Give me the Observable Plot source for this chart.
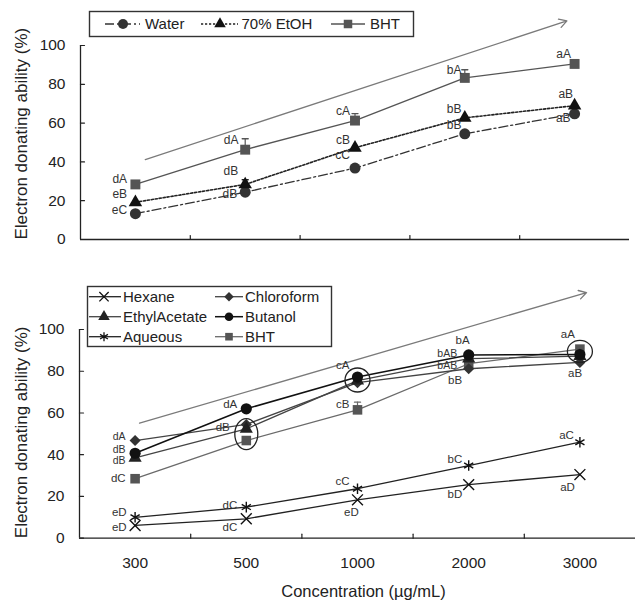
<!DOCTYPE html>
<html><head><meta charset="utf-8">
<script src="https://cdn.jsdelivr.net/npm/d3@7"></script>
<script src="https://cdn.jsdelivr.net/npm/@observablehq/plot@0.6"></script>
<style>
body{margin:0;background:#fff;font-family:"Liberation Sans",Arial,sans-serif;}
#root{position:relative;width:641px;height:604px;overflow:hidden;background:#fff;}
#top,#bottom,#legends{position:absolute;left:0;}
#top{top:0}#bottom{top:250px}#legends{top:0;pointer-events:none}
</style></head><body><div id="root"><div id="top"></div><div id="bottom"></div><svg id="legends" width="641" height="604"></svg></div>
<script>
// ---------- data ----------
const concentrations = ["300", "500", "1000", "2000", "3000"];
const yTicks = [0, 20, 40, 60, 80, 100];
const yTitle = "Electron donating ability (%)";
const xTitle = "Concentration (µg/mL)";

// top panel
const topNames = ["Water", "70% EtOH", "BHT"];
const water = [13.3, 24.4, 36.8, 54.5, 64.8];
const etoh = [19.2, 28.4, 47.3, 62.7, 69.0];
const bhtTop = [28.4, 46.3, 61.3, 83.3, 90.5];
const waterSD = [0, 0, 0, 0, 0];
const etohSD = [0, 2.4, 0, 0, 0];
const bhtTopSD = [0, 5.6, 3.6, 4.2, 0];
const waterLetters = ["eC", "dB", "cC", "bB", "aB"];
const etohLetters = ["eB", "dB", "cB", "bB", "aB"];
const bhtTopLetters = ["dA", "dA", "cA", "bA", "aA"];
const topArrow = [{x1: 0.09, y1: 41.2, x2: 3.93, y2: 112.7}];

// bottom panel
const bottomNames = ["Hexane", "Chloroform", "EthylAcetate", "Butanol", "Aqueous", "BHT"];
const hexane = [6.1, 9.3, 18.4, 25.7, 30.5];
const chloroform = [46.8, 54.5, 74.5, 81.2, 84.2];
const ethylAcetate = [38.5, 52.4, 75.5, 86.0, 87.2];
const butanol = [40.7, 62.0, 77.2, 87.8, 88.0];
const aqueous = [10.0, 14.9, 23.7, 34.8, 46.0];
const bhtBottom = [28.5, 46.8, 61.5, 83.6, 90.6];
const zeroSD = [0, 0, 0, 0, 0];
const bhtBottomSD = [0, 0, 3.7, 0, 0];
const hexaneLetters = ["eD", "dC", "eD", "bD", "aD"];
const chloroformLetters = ["dA", null, null, "bB", "aB"];
const ethylAcetateLetters = ["dB", "dB", null, "bAB", null];
const butanolLetters = ["dB", "dA", "cA", "bA", null];
const aqueousLetters = ["eD", "dC", "cC", "bC", "aC"];
const bhtBottomLetters = ["dC", null, "cB", "bAB", "aA"];
const bottomArrow = [{x1: 0.04, y1: 55.1, x2: 4.06, y2: 117.7}];
const highlight = [{i: 1, v: 49.9}, {i: 2, v: 75.8}, {i: 4, v: 89.5}];

// ---------- layout / style (not data) ----------
const FONT = "'Liberation Sans', Arial, sans-serif";
const topNudge = {
  Water: [[-8.3, -3.3], [-8, 2.3], [-5, -12.7], [-3.3, -8.3], [-4, 4]],
  "70% EtOH": [[-8.3, -7.7], [-7, -13.3], [-5, -8], [-3.3, -9], [-1.5, -11]],
  BHT: [[-8.3, -5.7], [-6.7, -9.3], [-5, -9], [-3.3, -7.3], [-3.6, -10]]
};
// [dx, dy, fontSize?]
const bottomNudge = {
  Hexane: [[-8.5, 2], [-9, 8.4], [1.3, 12.4], [-6.5, 10], [-5, 12.7]],
  Chloroform: [[-9.5, -3.5, 10.5], null, null, [-6.5, 11.7], [2.3, 11]],
  EthylAcetate: [[-9.5, 3.2, 10.5], [-16.5, -1.6], null, [-11.5, -5.2, 10.5], null],
  Butanol: [[-9.5, -3.7, 10.5], [-9, -4.3], [-8, -12], [1, -14.5], null],
  Aqueous: [[-8.5, -5], [-9, -2], [-8, -7.6], [-6.5, -6.7], [-6, -7]],
  BHT: [[-9.5, -0.3], null, [-8, -5.3], [-11.5, 1.6, 10.5], [-5, -14.5]]
};
const topStyle = {
  Water: {stroke: "#333", dash: "9,3,2,3", width: 1.3, symbol: "circle", fill: "#333", r: 5.5},
  "70% EtOH": {stroke: "#222", dash: "2.2,1.8", width: 1.6, symbol: "triangle", fill: "#111", r: 5},
  BHT: {stroke: "#555", dash: null, width: 1.4, symbol: "square", fill: "#555", r: 5.6}
};
const bottomStyle = {
  BHT: {stroke: "#6a6a6a", width: 1.3, symbol: "square", fill: "#555", r: 5.4},
  Hexane: {stroke: "#222", width: 1.3, symbol: "times", fill: "none", r: 5},
  Aqueous: {stroke: "#222", width: 1.3, symbol: "asterisk", fill: "none", r: 5},
  Chloroform: {stroke: "#444", width: 1.3, symbol: "diamond2", fill: "#333", r: 5},
  EthylAcetate: {stroke: "#444", width: 1.3, symbol: "triangle", fill: "#222", r: 4.9},
  Butanol: {stroke: "#111", width: 1.5, symbol: "circle", fill: "#111", r: 5.6}
};
const ellipseSizes = [[11.5, 15.5], [12.5, 12], [12.5, 11]];

const idx = d3.range(concentrations.length);
function rows(name, vals, sd, letters, nudges) {
  return idx.map(i => ({series: name, i, v: vals[i], sd: sd[i], letter: letters[i],
    nudge: nudges[i]}));
}
const topData = [
  rows("Water", water, waterSD, waterLetters, topNudge.Water),
  rows("70% EtOH", etoh, etohSD, etohLetters, topNudge["70% EtOH"]),
  rows("BHT", bhtTop, bhtTopSD, bhtTopLetters, topNudge.BHT)
];
const bottomData = [
  rows("BHT", bhtBottom, bhtBottomSD, bhtBottomLetters, bottomNudge.BHT),
  rows("Hexane", hexane, zeroSD, hexaneLetters, bottomNudge.Hexane),
  rows("Aqueous", aqueous, zeroSD, aqueousLetters, bottomNudge.Aqueous),
  rows("Chloroform", chloroform, zeroSD, chloroformLetters, bottomNudge.Chloroform),
  rows("EthylAcetate", ethylAcetate, zeroSD, ethylAcetateLetters, bottomNudge.EthylAcetate),
  rows("Butanol", butanol, zeroSD, butanolLetters, bottomNudge.Butanol)
];

const tickShape = {draw(ctx, l) { ctx.moveTo(0, 0); ctx.lineTo(0, -l); }};
function ellipseSymbol(rx, ry) {
  const k = 0.5523;
  return {draw(ctx) {
    ctx.moveTo(rx, 0);
    ctx.bezierCurveTo(rx, ry * k, rx * k, ry, 0, ry);
    ctx.bezierCurveTo(-rx * k, ry, -rx, ry * k, -rx, 0);
    ctx.bezierCurveTo(-rx, -ry * k, -rx * k, -ry, 0, -ry);
    ctx.bezierCurveTo(rx * k, -ry, rx, -ry * k, rx, 0);
    ctx.closePath();
  }};
}

function seriesMarks(groups, styles, labelSize) {
  const lines = groups.map(g => {
    const s = styles[g[0].series];
    return Plot.line(g, {x: "i", y: "v", stroke: s.stroke, strokeWidth: s.width,
      strokeDasharray: s.dash || undefined});
  });
  const errs = groups.flatMap(g => {
    const s = styles[g[0].series];
    const e = g.filter(d => d.sd > 0);
    return [
      Plot.ruleX(e, {x: "i", y1: "v", y2: d => d.v + d.sd, stroke: s.stroke, strokeWidth: 1.2}),
      Plot.vector(e, {x: "i", y: d => d.v + d.sd, length: 6, rotate: 90, anchor: "middle",
        shape: tickShape, stroke: s.stroke, strokeWidth: 1.4})
    ];
  });
  const dots = groups.map(g => {
    const s = styles[g[0].series];
    const strokeSym = s.fill === "none";
    return Plot.dot(g, {x: "i", y: "v", symbol: s.symbol, r: s.r,
      fill: strokeSym ? "none" : s.fill, stroke: strokeSym ? "#111" : "none",
      strokeWidth: strokeSym ? 1.4 : 0});
  });
  const labels = groups.flatMap(g => g.filter(d => d.letter && d.nudge).map(d =>
    Plot.text([d], {x: "i", y: "v", text: "letter", dx: d.nudge[0], dy: d.nudge[1],
      textAnchor: "end", fontSize: d.nudge[2] || labelSize, fill: "#333"})));
  return [...lines, ...errs, ...dots, ...labels];
}

function axesMarks(showXLabels, titleDx) {
  const m = [
    Plot.ruleY([0], {stroke: "#222", strokeWidth: 1.3}),
    Plot.ruleX([-0.5], {y1: 0, y2: 100, stroke: "#222", strokeWidth: 1.3}),
    Plot.vector(yTicks, {x: -0.5, y: d => d, length: 4, rotate: 90, anchor: "start",
      shape: tickShape, stroke: "#222", strokeWidth: 1.2}),
    Plot.vector(idx.slice(0, -1).map(i => i + 0.5), {x: d => d, y: 0, length: 4, rotate: 0,
      anchor: "start", shape: tickShape, stroke: "#222", strokeWidth: 1.2}),
    Plot.axisY(yTicks, {tickSize: 0, tickPadding: 15, fontSize: 15.5, fill: "#222", label: null}),
    Plot.text([yTitle], {x: -0.5, y: 0, text: d => d, rotate: -90, textAnchor: "start",
      dx: titleDx, fontSize: 17, fill: "#222"})
  ];
  if (showXLabels) {
    m.push(Plot.axisX(idx, {tickSize: 0, tickPadding: 18.5, tickFormat: i => concentrations[i],
      fontSize: 15.5, fill: "#222", label: null}));
    m.push(Plot.text([xTitle], {frameAnchor: "bottom", text: d => d, dy: 59, dx: 6,
      fontSize: 16.5, fill: "#222"}));
  }
  return m;
}

const common = {
  width: 641,
  x: {domain: [-0.5, 4.5], axis: null},
  y: {domain: [0, 100], axis: null},
  style: {fontFamily: FONT, background: "transparent", overflow: "visible"}
};

const topPlot = Plot.plot({
  ...common, height: 250, marginLeft: 80, marginRight: 12, marginTop: 45, marginBottom: 11,
  marks: [
    Plot.arrow(topArrow, {x1: "x1", y1: "y1", x2: "x2", y2: "y2", stroke: "#7a7a7a",
      strokeWidth: 1.3, headLength: 10}),
    ...seriesMarks(topData, topStyle, 12),
    ...axesMarks(false, -59)
  ]
});
document.getElementById("top").appendChild(topPlot);

const bottomPlot = Plot.plot({
  ...common, height: 354, marginLeft: 79, marginRight: 6, marginTop: 79, marginBottom: 66.3,
  marks: [
    Plot.arrow(bottomArrow, {x1: "x1", y1: "y1", x2: "x2", y2: "y2", stroke: "#7a7a7a",
      strokeWidth: 1.3, headLength: 10}),
    ...seriesMarks(bottomData, bottomStyle, 11.5),
    ...highlight.map((h, k) => Plot.dot([h], {x: "i", y: "v",
      symbol: ellipseSymbol(ellipseSizes[k][0], ellipseSizes[k][1]), r: 10,
      fill: "none", stroke: "#222", strokeWidth: 1.3})),
    ...axesMarks(true, -58)
  ]
});
document.getElementById("bottom").appendChild(bottomPlot);

// ---------- legends ----------
const lg = d3.select("#legends");
function legend(box, items) {
  lg.append("rect").attr("x", box[0]).attr("y", box[1]).attr("width", box[2]).attr("height", box[3])
    .attr("fill", "#fff").attr("stroke", "#333").attr("stroke-width", 1.4);
  for (const it of items) {
    const s = it.style;
    lg.append("line").attr("x1", it.x0).attr("x2", it.x1).attr("y1", it.y).attr("y2", it.y)
      .attr("stroke", s.stroke).attr("stroke-width", s.width)
      .attr("stroke-dasharray", s.dash || null);
    const symMap = {circle: d3.symbolCircle, triangle: d3.symbolTriangle, square: d3.symbolSquare,
      diamond2: d3.symbolDiamond2, times: d3.symbolTimes, asterisk: d3.symbolAsterisk};
    const strokeSym = s.fill === "none";
    lg.append("path").attr("transform", `translate(${it.mx},${it.y})`)
      .attr("d", d3.symbol(symMap[s.symbol], Math.PI * it.r * it.r)())
      .attr("fill", strokeSym ? "none" : s.fill).attr("stroke", strokeSym ? "#111" : "none")
      .attr("stroke-width", 1.3);
    lg.append("text").attr("x", it.tx).attr("y", it.y).attr("dy", "0.35em")
      .attr("font-family", FONT).attr("font-size", 15).attr("fill", "#222").text(it.name);
  }
}
legend([89.5, 11.5, 324, 25], [
  {name: topNames[0], style: topStyle.Water, x0: 105, x1: 140, mx: 123, tx: 145, y: 24, r: 5},
  {name: topNames[1], style: topStyle["70% EtOH"], x0: 201, x1: 238, mx: 220, tx: 241.5, y: 24, r: 4.3},
  {name: topNames[2], style: topStyle.BHT, x0: 331, x1: 365, mx: 348, tx: 370, y: 24, r: 4.8}
]);
const colA = {x0: 89, x1: 121, mx: 104, tx: 123};
const colB = {x0: 215, x1: 243, mx: 229, tx: 245};
const rowsY = [296.7, 316.7, 336.7];
legend([87.5, 286.5, 244, 60], bottomNames.map((n, k) => ({
  name: n, style: bottomStyle[n], ...(k % 2 === 0 ? colA : colB),
  y: rowsY[Math.floor(k / 2)], r: 4.3
})));
</script></body></html>
